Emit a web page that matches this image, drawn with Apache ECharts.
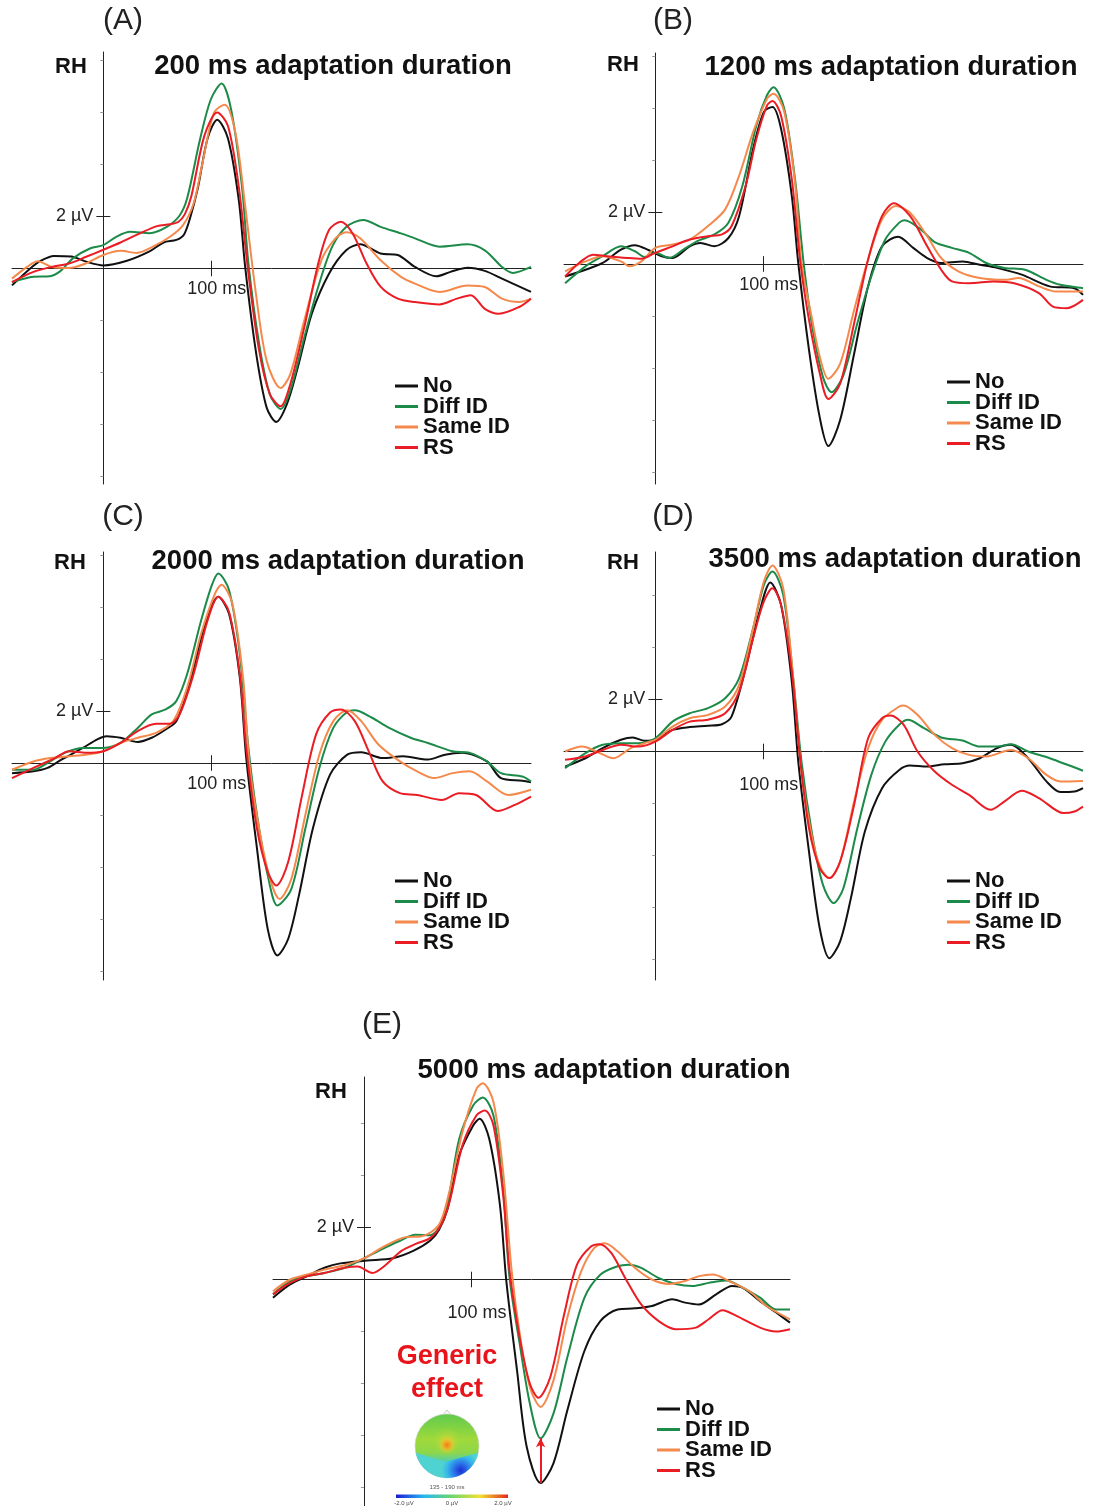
<!DOCTYPE html>
<html><head><meta charset="utf-8">
<script src="https://cdn.jsdelivr.net/npm/echarts@6/dist/echarts.min.js"></script>
<style>html,body{margin:0;padding:0;background:#fff}#c{width:1096px;height:1506px}</style>
</head><body><div id="c"></div>
<script>
// ---------- DATA (time in ms, amplitude in µV) ----------
const seriesNames = ['No', 'Diff ID', 'Same ID', 'RS'];
const panelLetters = ['(A)', '(B)', '(C)', '(D)', '(E)'];
const panelTitles = ['200 ms adaptation duration', '1200 ms adaptation duration', '2000 ms adaptation duration', '3500 ms adaptation duration', '5000 ms adaptation duration'];
const hemisphereLabel = 'RH';
const timeRange = [-85, 398];
const xTickLabels = [100];
const yLabelTicks = [2];
const yMinorTicks = [-8, -6, -4, -2, 4, 6, 8];

const A_no = [[-85,-0.65],[-68,0.0],[-58,0.3],[-46,0.48],[-30,0.46],[-15,0.25],[0,0.12],[22,0.3],[43,0.66],[56,1.0],[68,1.1],[75,1.3],[81,1.98],[88,3.1],[97,5.0],[106,5.72],[116,5.0],[126,2.65],[132,0.06],[142,-3.2],[152,-5.35],[161,-5.9],[171,-5.2],[181,-3.8],[194,-1.74],[210,-0.2],[226,0.7],[239,0.93],[258,0.58],[274,0.52],[290,0.06],[310,-0.3],[323,-0.13],[339,0.03],[355,-0.09],[371,-0.39],[398,-0.9]];
const A_diff = [[-85,-0.52],[-65,-0.32],[-50,-0.3],[-40,-0.1],[-28,0.4],[-12,0.78],[0,0.9],[12,1.22],[25,1.41],[43,1.36],[59,1.6],[71,2.04],[78,2.7],[90,4.97],[100,6.5],[110,7.12],[119,6.1],[129,3.16],[135,0.2],[145,-2.9],[155,-4.84],[165,-5.4],[174,-4.7],[187,-2.65],[200,-0.7],[213,0.84],[226,1.6],[242,1.87],[258,1.6],[277,1.35],[290,1.16],[313,0.84],[339,0.93],[355,0.7],[371,0.06],[381,-0.17],[398,0.06]];
const A_same = [[-85,-0.39],[-71,0.06],[-61,0.28],[-48,0.06],[-32,0.02],[-16,0.2],[0,0.52],[16,0.68],[31,0.6],[47,0.86],[62,1.22],[74,1.66],[84,2.5],[92,4.0],[103,6.0],[113,6.3],[123,5.2],[132,2.4],[142,-0.97],[152,-3.55],[165,-4.6],[174,-4.06],[187,-2.0],[203,0.32],[216,1.16],[226,1.39],[239,1.16],[258,0.32],[277,-0.32],[290,-0.58],[313,-0.9],[339,-0.65],[355,-0.71],[371,-1.16],[387,-1.29],[398,-1.16]];
const A_rs = [[-85,-0.52],[-65,-0.13],[-48,0.06],[-32,0.19],[-16,0.45],[0,0.72],[16,1.0],[34,1.35],[50,1.63],[62,1.7],[70,1.8],[76,2.1],[82,2.8],[94,5.1],[106,6.0],[116,5.48],[126,3.16],[135,-0.19],[145,-3.16],[155,-4.84],[165,-5.3],[174,-4.45],[187,-2.26],[200,0.19],[210,1.48],[221,1.8],[232,1.35],[245,0.19],[258,-0.7],[274,-1.16],[290,-1.29],[313,-1.38],[329,-1.16],[342,-1.03],[355,-1.55],[368,-1.74],[387,-1.48],[398,-1.16]];

const B_no = [[-84,-0.48],[-65,-0.22],[-49,0.04],[-32,0.55],[-19,0.72],[-6,0.53],[6,0.3],[16,0.23],[32,0.68],[42,0.81],[55,0.68],[68,1.0],[78,1.85],[91,4.43],[101,5.85],[109,6.04],[117,5.2],[127,2.62],[133,0.04],[143,-3.3],[153,-5.9],[161,-7.0],[172,-6.0],[185,-3.45],[198,-0.86],[211,0.68],[226,1.05],[240,0.62],[253,0.23],[266,0.04],[286,0.1],[302,-0.03],[318,-0.15],[341,-0.41],[367,-0.86],[390,-0.93],[398,-1.19]];
const B_diff = [[-84,-0.74],[-65,-0.09],[-49,0.3],[-32,0.68],[-19,0.49],[-10,0.27],[0,0.43],[13,0.23],[26,0.55],[39,0.88],[55,1.14],[68,1.59],[81,3.0],[94,5.33],[104,6.5],[110,6.8],[120,5.97],[130,3.26],[138,0.04],[146,-2.4],[156,-4.35],[164,-4.93],[175,-4.28],[188,-2.28],[201,-0.48],[214,0.94],[227,1.59],[232,1.68],[247,1.33],[260,0.84],[276,0.62],[292,0.43],[308,0.04],[325,-0.15],[344,-0.22],[364,-0.61],[377,-0.8],[398,-0.93]];
const B_same = [[-84,-0.28],[-65,0.1],[-49,0.3],[-32,0.1],[-24,-0.09],[-13,0.1],[0,0.62],[16,0.75],[32,0.94],[49,1.46],[65,2.1],[78,3.4],[91,5.07],[104,6.36],[110,6.55],[120,5.85],[130,3.14],[136,0.04],[146,-2.15],[153,-3.57],[161,-4.41],[172,-3.83],[185,-1.77],[198,0.17],[211,1.72],[224,2.23],[237,1.97],[253,1.07],[266,0.23],[282,-0.28],[302,-0.54],[325,-0.61],[338,-0.54],[357,-0.86],[373,-1.06],[398,-1.06]];
const B_rs = [[-84,-0.48],[-71,0.04],[-58,0.36],[-45,0.3],[-26,0.23],[-13,0.2],[0,0.43],[16,0.68],[32,0.94],[49,1.07],[62,1.14],[71,1.46],[84,3.0],[94,4.81],[104,6.1],[109,6.27],[117,5.7],[127,3.26],[135,0.04],[143,-2.15],[153,-4.2],[161,-5.19],[172,-4.6],[185,-2.28],[198,0.17],[211,1.85],[222,2.34],[237,1.85],[253,0.68],[266,-0.22],[276,-0.67],[292,-0.74],[315,-0.67],[334,-0.74],[357,-1.12],[370,-1.64],[383,-1.7],[398,-1.38]];

const C_no = [[-85,-0.39],[-65,-0.32],[-52,-0.19],[-39,0.13],[-19,0.58],[-6,0.9],[3,1.03],[16,0.97],[32,0.81],[45,0.97],[58,1.29],[68,1.61],[81,3.16],[94,5.23],[107,6.39],[117,5.74],[127,3.29],[133,0.19],[143,-3.29],[153,-6.39],[162,-7.4],[172,-6.77],[182,-5.1],[195,-2.52],[211,-0.45],[227,0.32],[240,0.41],[260,0.19],[279,0.26],[302,0.13],[318,0.32],[334,0.39],[357,0.06],[370,-0.58],[390,-0.68],[398,-0.74]];
const C_diff = [[-85,-0.26],[-65,-0.26],[-52,0.0],[-36,0.39],[-19,0.58],[0,0.58],[16,0.77],[32,1.35],[45,1.87],[58,2.06],[68,2.39],[78,3.42],[91,5.48],[101,6.84],[107,7.29],[117,6.65],[127,4.19],[135,0.58],[143,-2.0],[153,-4.32],[162,-5.48],[175,-4.84],[188,-2.52],[201,-0.19],[214,1.35],[227,1.97],[234,2.03],[250,1.74],[266,1.35],[286,0.97],[302,0.77],[325,0.45],[341,0.39],[357,0.06],[370,-0.39],[390,-0.52],[398,-0.71]];
const C_same = [[-85,-0.26],[-65,0.06],[-49,0.19],[-32,0.26],[-16,0.32],[0,0.45],[16,0.77],[32,0.97],[49,1.16],[65,1.61],[78,2.9],[91,4.97],[104,6.52],[110,6.86],[120,6.13],[130,3.29],[136,-0.06],[146,-2.77],[156,-4.58],[164,-5.23],[175,-4.45],[188,-2.0],[201,0.32],[214,1.61],[227,2.03],[240,1.61],[256,0.71],[276,0.06],[292,-0.32],[308,-0.58],[325,-0.39],[341,-0.32],[357,-0.71],[377,-1.23],[398,-1.03]];
const C_rs = [[-85,-0.58],[-65,-0.19],[-45,0.19],[-32,0.45],[-16,0.39],[0,0.45],[16,0.77],[32,1.23],[49,1.51],[62,1.51],[71,1.87],[84,3.42],[97,5.48],[107,6.39],[117,5.81],[127,3.42],[133,0.58],[143,-2.52],[153,-4.19],[161,-4.71],[172,-3.81],[185,-1.23],[198,1.1],[211,1.94],[221,2.06],[234,1.61],[247,0.45],[260,-0.71],[276,-1.16],[292,-1.23],[315,-1.42],[331,-1.16],[347,-1.23],[367,-1.85],[383,-1.61],[398,-1.29]];

const D_no = [[-84,-0.58],[-65,-0.26],[-49,0.13],[-32,0.45],[-21,0.54],[-10,0.41],[0,0.45],[16,0.83],[32,0.94],[49,0.99],[62,1.05],[71,1.35],[84,3.2],[97,5.38],[107,6.5],[117,5.64],[127,2.69],[133,-0.38],[143,-3.85],[153,-6.8],[162,-7.95],[172,-7.3],[182,-5.64],[195,-3.08],[211,-1.41],[227,-0.71],[237,-0.54],[253,-0.58],[269,-0.49],[286,-0.45],[302,-0.26],[318,0.13],[331,0.26],[347,-0.26],[364,-1.15],[377,-1.56],[390,-1.54],[398,-1.41]];
const D_diff = [[-84,-0.64],[-65,-0.06],[-49,0.26],[-32,0.32],[-16,0.32],[0,0.51],[16,1.15],[32,1.47],[49,1.67],[65,2.05],[78,2.82],[91,4.74],[101,6.41],[109,6.92],[119,6.03],[128,2.95],[136,-0.38],[146,-3.2],[156,-5.13],[166,-5.83],[175,-5.26],[188,-2.95],[201,-0.9],[214,0.38],[227,1.03],[235,1.22],[250,0.9],[266,0.54],[286,0.42],[302,0.19],[318,0.19],[331,0.28],[347,0.0],[367,-0.26],[398,-0.74]];
const D_same = [[-84,0.0],[-68,0.19],[-55,0.0],[-39,-0.26],[-23,0.13],[-10,0.32],[0,0.45],[16,0.96],[32,1.28],[49,1.41],[65,1.73],[78,2.56],[91,4.74],[101,6.54],[109,7.15],[119,6.28],[128,2.95],[136,-0.77],[146,-3.33],[154,-4.49],[162,-4.87],[172,-4.23],[185,-1.92],[198,0.13],[211,1.22],[227,1.73],[231,1.77],[244,1.41],[260,0.64],[276,0.13],[292,-0.13],[308,-0.19],[331,0.06],[347,-0.26],[364,-0.9],[377,-1.15],[398,-1.13]];
const D_rs = [[-84,-0.32],[-65,-0.19],[-49,0.06],[-32,0.26],[-16,0.19],[0,0.38],[16,0.83],[32,1.15],[49,1.22],[65,1.47],[78,2.31],[91,4.36],[101,5.77],[109,6.28],[117,5.64],[127,3.08],[135,-0.38],[143,-2.95],[153,-4.49],[162,-4.87],[172,-4.23],[185,-2.05],[198,0.51],[211,1.28],[219,1.38],[231,1.03],[244,0.0],[260,-0.77],[276,-1.28],[292,-1.67],[312,-2.24],[325,-1.92],[341,-1.51],[357,-1.79],[380,-2.37],[390,-2.31],[398,-2.12]];

const E_no = [[-85,-0.7],[-69,-0.19],[-53,0.13],[-37,0.45],[-22,0.62],[3,0.73],[27,0.82],[46,1.1],[62,1.5],[70,1.9],[78,2.7],[89,4.78],[102,5.92],[108,6.18],[117,5.41],[127,2.87],[133,-0.06],[143,-3.5],[152,-6.43],[165,-7.83],[177,-7.07],[190,-5.03],[206,-2.74],[221,-1.59],[237,-1.15],[253,-1.11],[269,-1.02],[288,-0.76],[300,-0.89],[313,-0.96],[329,-0.57],[344,-0.25],[354,-0.32],[370,-0.83],[385,-1.27],[398,-1.66]];
const E_diff = [[-85,-0.57],[-69,-0.06],[-53,0.13],[-37,0.25],[-18,0.45],[1,0.83],[16,1.15],[32,1.46],[48,1.72],[62,1.7],[70,2.0],[78,2.9],[89,5.41],[102,6.69],[111,7.0],[121,6.3],[130,3.5],[136,0.06],[146,-2.61],[155,-4.78],[165,-6.11],[177,-5.16],[190,-2.99],[206,-0.7],[221,0.19],[237,0.51],[247,0.57],[259,0.45],[275,0.06],[291,-0.17],[307,-0.25],[322,-0.13],[338,-0.04],[354,-0.32],[370,-0.7],[385,-1.15],[398,-1.15]];
const E_same = [[-85,-0.45],[-69,0.0],[-53,0.19],[-37,0.38],[-18,0.55],[1,0.83],[16,1.21],[38,1.62],[54,1.66],[70,2.1],[79,3.25],[92,5.67],[105,7.32],[111,7.55],[121,6.82],[130,4.14],[138,0.32],[146,-2.23],[155,-4.14],[165,-4.9],[177,-3.89],[190,-1.46],[203,0.32],[215,1.21],[225,1.39],[237,1.08],[253,0.45],[269,0.0],[285,-0.17],[300,-0.06],[313,0.13],[326,0.19],[341,-0.06],[360,-0.45],[376,-1.02],[398,-1.53]];
const E_rs = [[-85,-0.57],[-69,-0.13],[-53,0.13],[-37,0.25],[-18,0.45],[-6,0.5],[8,0.25],[20,0.55],[35,1.1],[49,1.38],[62,1.6],[72,2.1],[80,3.0],[92,5.16],[105,6.31],[113,6.5],[121,5.92],[130,3.25],[136,0.32],[146,-2.36],[155,-4.01],[163,-4.55],[174,-3.76],[187,-1.34],[199,0.57],[212,1.27],[220,1.36],[231,1.02],[244,0.06],[259,-0.96],[275,-1.59],[291,-1.91],[310,-1.85],[322,-1.53],[335,-1.18],[348,-1.4],[370,-1.85],[385,-2.0],[398,-1.91]];

const panelData = [
  [A_no, A_diff, A_same, A_rs],
  [B_no, B_diff, B_same, B_rs],
  [C_no, C_diff, C_same, C_rs],
  [D_no, D_diff, D_same, D_rs],
  [E_no, E_diff, E_same, E_rs]
];
const topoLabels = ['Generic', 'effect'];
const topoWindow = '135 - 190 ms';
const topoScale = ['-2.0 µV', '0 µV', '2.0 µV'];

// ---------- STYLE / LAYOUT ----------
const FONT = '"Liberation Sans", Arial, Helvetica, sans-serif';
const colors = ['#111111', '#1c8a48', '#f5894c', '#ea1c24'];
const PX_PER_UV = 26;
const layout = [
  {left:12,  right:531,  top:52,   bottom:484,  zeroY:268.5, msLabelGap:4,  letter:[123,21],  title:[333,66],   rh:[55,67],   legend:[395,375]},
  {left:564, right:1083, top:53,   bottom:484,  zeroY:264,   msLabelGap:4,  letter:[673,21],  title:[891,67],   rh:[607,65],  legend:[947,371]},
  {left:12,  right:531,  top:552,  bottom:980,  zeroY:763,   msLabelGap:4,  letter:[123,517], title:[338,561],  rh:[54,563],  legend:[395,870]},
  {left:564, right:1083, top:552,  bottom:980,  zeroY:751.5, msLabelGap:17, letter:[673,517], title:[895,559],  rh:[607,563], legend:[947,870]},
  {left:273, right:790,  top:1077, bottom:1506, zeroY:1279.5,msLabelGap:17, letter:[382,1025],title:[604,1070], rh:[315,1092],legend:[657,1398]}
];

const grids = [], xAxes = [], yAxes = [], series = [], legends = [], graphics = [];
const tickLabelStyle = {show:true, fontSize:18, color:'#222', fontFamily:FONT};

layout.forEach((L, i) => {
  const yMax = (L.zeroY - L.top) / PX_PER_UV;
  const yMin = -(L.bottom - L.zeroY) / PX_PER_UV;
  grids.push({left:L.left, top:L.top, width:L.right - L.left, height:L.bottom - L.top, containLabel:false, outerBoundsMode:'none'});
  xAxes.push({
    gridIndex:i, type:'value', min:timeRange[0], max:timeRange[1],
    axisLine:{show:true, onZero:true, lineStyle:{color:'#222', width:1}},
    axisTick:{show:false}, axisLabel:{show:false}, splitLine:{show:false}
  });
  yAxes.push({
    gridIndex:i, type:'value', min:yMin, max:yMax,
    axisLine:{show:true, onZero:true, lineStyle:{color:'#222', width:1}},
    axisTick:{show:true, customValues:yMinorTicks.filter(v => v > yMin && v < yMax), length:3, lineStyle:{color:'#999', width:1}},
    axisLabel:{show:false}, splitLine:{show:false}
  });
  panelData[i].forEach((d, k) => {
    const s = {
      type:'line', name:seriesNames[k], xAxisIndex:i, yAxisIndex:i, data:d,
      smooth:0.3, showSymbol:false, symbol:'none', silent:true, animation:false,
      color:colors[k], lineStyle:{width:2, color:colors[k]}, itemStyle:{color:colors[k]}, z:2 + k
    };
    if (k === 0) {
      // labelled cross ticks at 100 ms and 2 µV
      s.markLine = {
        silent:true, symbol:'none', animation:false, label:{show:false},
        lineStyle:{color:'#222', width:1, type:'solid'},
        data:[
          [{coord:[xTickLabels[0], -0.3], label:Object.assign({}, tickLabelStyle, {position:'start', distance:L.msLabelGap, padding:[0,0,0,12], formatter:xTickLabels[0] + ' ms'})},
           {coord:[xTickLabels[0], 0.3]}],
          [{coord:[-6.5, yLabelTicks[0]], label:Object.assign({}, tickLabelStyle, {position:'start', distance:3, formatter:yLabelTicks[0] + ' µV'})},
           {coord:[6.5, yLabelTicks[0]]}]
        ]
      };
    }
    if (i === 4 && k === 3) {
      // generic effect arrow: from Diff ID trough down to No trough
      const noMin = E_no.reduce((a, b) => (b[1] < a[1] ? b : a));
      const diffMin = E_diff.reduce((a, b) => (b[1] < a[1] ? b : a));
      s.markLine = {
        silent:true, symbol:['arrow','none'], symbolSize:[7,9], animation:false, label:{show:false},
        lineStyle:{color:'#ea1c24', width:2, type:'solid'},
        data:[[{coord:[noMin[0], diffMin[1]]}, {coord:[noMin[0], noMin[1]]}]]
      };
    }
    series.push(s);
  });
  legends.push({
    orient:'vertical', left:L.legend[0], top:L.legend[1], selectedMode:false, padding:0,
    icon:'rect', itemWidth:23, itemHeight:3, itemGap:-1.5,
    textStyle:{fontSize:22, fontWeight:'bold', color:'#111', fontFamily:FONT},
    data:seriesNames
  });
  graphics.push(
    {type:'text', x:L.letter[0], y:L.letter[1], silent:true, style:{text:panelLetters[i], font:'30px ' + FONT, fill:'#222', align:'center', verticalAlign:'middle'}},
    {type:'text', x:L.title[0], y:L.title[1], silent:true, style:{text:panelTitles[i], font:'bold 27.5px ' + FONT, fill:'#111', align:'center', verticalAlign:'middle'}},
    {type:'text', x:L.rh[0], y:L.rh[1], silent:true, style:{text:hemisphereLabel, font:'bold 22px ' + FONT, fill:'#111', align:'left', verticalAlign:'middle'}}
  );
});

// Generic effect label + topographic map (decoration)
const cx = 447, cy = 1446, r = 32;
graphics.push(
  {type:'text', x:cx, y:1357, silent:true, style:{text:topoLabels[0], font:'bold 27px ' + FONT, fill:'#e8141b', align:'center', verticalAlign:'middle'}},
  {type:'text', x:cx, y:1390, silent:true, style:{text:topoLabels[1], font:'bold 27px ' + FONT, fill:'#e8141b', align:'center', verticalAlign:'middle'}}
);
const lowerPts = [];
for (let a = 12; a <= 168; a += 6) {
  const t = a * Math.PI / 180;
  lowerPts.push([cx + r * Math.cos(t), cy + r * Math.sin(t)]);
}
lowerPts.push([cx - 2, cy + 16]);
graphics.push(
  {type:'polyline', silent:true, z:19, shape:{points:[[cx-4,cy-r+1],[cx,cy-r-4],[cx+4,cy-r+1]]}, style:{stroke:'#c8c8c8', lineWidth:1, fill:null}},
  {type:'circle', silent:true, z:20, shape:{cx, cy, r}, style:{
    fill:new echarts.graphic.LinearGradient(0,0,0,1,[
      {offset:0,color:'#5fcb4e'},{offset:0.4,color:'#9fd93a'},{offset:0.6,color:'#8ed64a'},{offset:0.75,color:'#4fcfb0'},{offset:1,color:'#3fb3e6'}]),
    stroke:'#d0d0d0', lineWidth:0.6}},
  {type:'polygon', silent:true, z:21, shape:{points:lowerPts}, style:{
    fill:new echarts.graphic.RadialGradient(0.72,0.7,0.75,[
      {offset:0,color:'#1c2fd4'},{offset:0.35,color:'#2a6fe6'},{offset:0.7,color:'#34b4ec'},{offset:1,color:'#4fd2d2'}])}},
  {type:'ellipse', silent:true, z:22, shape:{cx:cx, cy:cy-4, rx:20, ry:15}, style:{
    fill:new echarts.graphic.RadialGradient(0.5,0.5,0.5,[
      {offset:0,color:'rgba(240,210,50,0.85)'},{offset:1,color:'rgba(170,220,60,0)'}])}},
  {type:'ellipse', silent:true, z:23, shape:{cx:cx, cy:cy-1, rx:8, ry:11}, style:{
    fill:new echarts.graphic.RadialGradient(0.5,0.5,0.5,[
      {offset:0,color:'#ef7d17'},{offset:0.5,color:'rgba(244,170,35,0.8)'},{offset:1,color:'rgba(240,210,50,0)'}])}},
  {type:'text', x:cx, y:1487, silent:true, z:24, style:{text:topoWindow, font:'6px ' + FONT, fill:'#555', align:'center', verticalAlign:'middle'}},
  {type:'rect', silent:true, z:24, shape:{x:396, y:1494.5, width:112, height:3.5}, style:{
    fill:new echarts.graphic.LinearGradient(0,0,1,0,[
      {offset:0,color:'#1b1bd6'},{offset:0.25,color:'#25b9f0'},{offset:0.5,color:'#6ed66b'},{offset:0.75,color:'#f2e132'},{offset:1,color:'#e3261d'}])}},
  {type:'text', x:404, y:1503, silent:true, z:24, style:{text:topoScale[0], font:'6px ' + FONT, fill:'#444', align:'center', verticalAlign:'middle'}},
  {type:'text', x:452, y:1503, silent:true, z:24, style:{text:topoScale[1], font:'6px ' + FONT, fill:'#444', align:'center', verticalAlign:'middle'}},
  {type:'text', x:503, y:1503, silent:true, z:24, style:{text:topoScale[2], font:'6px ' + FONT, fill:'#444', align:'center', verticalAlign:'middle'}}
);

const chart = echarts.init(document.getElementById('c'), null, {renderer:'canvas', width:1096, height:1506});
chart.setOption({
  animation:false,
  backgroundColor:'#ffffff',
  textStyle:{fontFamily:FONT},
  grid:grids, xAxis:xAxes, yAxis:yAxes, series:series, legend:legends,
  graphic:{elements:graphics}
});
</script>
</body></html>
